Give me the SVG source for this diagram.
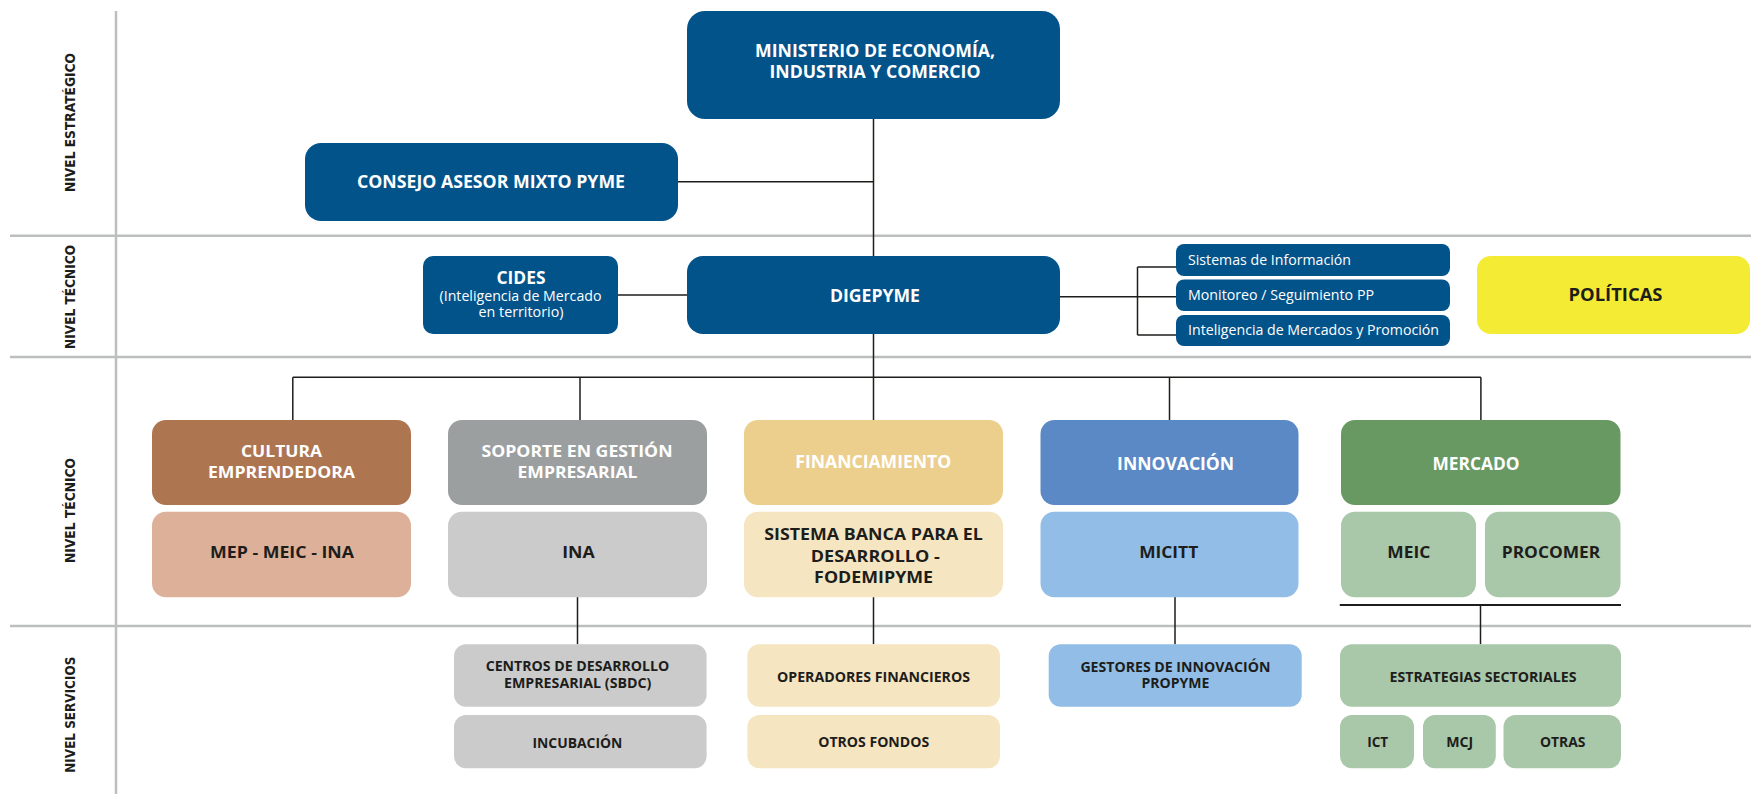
<svg xmlns="http://www.w3.org/2000/svg" width="1751" height="794" viewBox="0 0 1751 794">
<style>
.grid{stroke:#bdbfbf;stroke-width:2.5;fill:none}
.con{stroke:#1d1d1b;stroke-width:1.5;fill:none}
.side{font-family:"DejaVu Sans",sans-serif;font-weight:700;font-size:14px;fill:#1d1d1b;text-anchor:middle}
.t{font-family:"Open Sans","Liberation Sans",sans-serif;font-weight:700;text-anchor:middle}
.r{font-family:"Open Sans","Liberation Sans",sans-serif;font-weight:400;font-size:14px}
.w{fill:#ffffff}
.d{fill:#1d1d1b}
.blue{fill:#03538b}
</style>
<g id="grid">
<line class="grid" x1="116" y1="11" x2="116" y2="794"/>
<line class="grid" x1="10" y1="235.7" x2="1751" y2="235.7"/>
<line class="grid" x1="10" y1="357" x2="1751" y2="357"/>
<line class="grid" x1="10" y1="626" x2="1751" y2="626"/>
</g>
<g id="levels">
<text class="side" transform="translate(75,122.5) rotate(-90)" textLength="139" lengthAdjust="spacingAndGlyphs">NIVEL ESTRATÉGICO</text>
<text class="side" transform="translate(75,297) rotate(-90)" textLength="104" lengthAdjust="spacingAndGlyphs">NIVEL TÉCNICO</text>
<text class="side" transform="translate(75,510.5) rotate(-90)" textLength="105" lengthAdjust="spacingAndGlyphs">NIVEL TÉCNICO</text>
<text class="side" transform="translate(75,714.7) rotate(-90)" textLength="116" lengthAdjust="spacingAndGlyphs">NIVEL SERVICIOS</text>
</g>
<g id="connectors">
<line class="con" x1="873.5" y1="118" x2="873.5" y2="256"/>
<line class="con" x1="678" y1="181.7" x2="873.5" y2="181.7"/>
<line class="con" x1="618" y1="295" x2="687" y2="295"/>
<line class="con" x1="1060" y1="296.7" x2="1137.5" y2="296.7"/>
<line class="con" x1="1137.5" y1="267" x2="1137.5" y2="335"/>
<line class="con" x1="1137.5" y1="267" x2="1176" y2="267"/>
<line class="con" x1="1137.5" y1="296.7" x2="1176" y2="296.7"/>
<line class="con" x1="1137.5" y1="335" x2="1176" y2="335"/>
<line class="con" x1="873.5" y1="334" x2="873.5" y2="420"/>
<line class="con" x1="292.8" y1="377.3" x2="1480.9" y2="377.3"/>
<line class="con" x1="292.8" y1="377.3" x2="292.8" y2="420"/>
<line class="con" x1="580" y1="377.3" x2="580" y2="420"/>
<line class="con" x1="1169.5" y1="377.3" x2="1169.5" y2="420"/>
<line class="con" x1="1480.9" y1="377.3" x2="1480.9" y2="420"/>
<line class="con" x1="577.5" y1="597" x2="577.5" y2="644.3"/>
<line class="con" x1="873.5" y1="597" x2="873.5" y2="644.3"/>
<line class="con" x1="1175" y1="597" x2="1175" y2="644.3"/>
<line x1="1339.8" y1="605" x2="1621" y2="605" stroke="#1d1d1b" stroke-width="2.2"/>
<line class="con" x1="1480.5" y1="605" x2="1480.5" y2="644.3"/>
</g>
<g id="ministerio">
<rect class="blue" x="687" y="11" width="373" height="108" rx="18"/>
<text class="t w" font-size="18" x="875" y="57" textLength="240" lengthAdjust="spacingAndGlyphs">MINISTERIO DE ECONOMÍA,</text>
<text class="t w" font-size="18" x="875" y="78" textLength="211" lengthAdjust="spacingAndGlyphs">INDUSTRIA Y COMERCIO</text>
</g>
<g id="consejo">
<rect class="blue" x="305" y="143" width="373" height="78" rx="16"/>
<text class="t w" font-size="18" x="491" y="188" textLength="268" lengthAdjust="spacingAndGlyphs">CONSEJO ASESOR MIXTO PYME</text>
</g>
<g id="cides">
<rect class="blue" x="423" y="256" width="195" height="78" rx="10"/>
<text class="t w" font-size="17" x="521" y="284" textLength="49" lengthAdjust="spacingAndGlyphs">CIDES</text>
<text class="r w" x="520.5" y="300.5" text-anchor="middle" font-size="13.5" textLength="162" lengthAdjust="spacingAndGlyphs">(Inteligencia de Mercado</text>
<text class="r w" x="521" y="317" text-anchor="middle" font-size="13.5" textLength="85" lengthAdjust="spacingAndGlyphs">en territorio)</text>
</g>
<g id="digepyme">
<rect class="blue" x="687" y="256" width="373" height="78" rx="16"/>
<text class="t w" font-size="18" x="875" y="301.5" textLength="90" lengthAdjust="spacingAndGlyphs">DIGEPYME</text>
</g>
<g id="sistemas">
<rect class="blue" x="1176" y="244" width="274" height="32" rx="8"/>
<text class="r w" x="1188" y="264.5" textLength="163" lengthAdjust="spacingAndGlyphs">Sistemas de Información</text>
</g>
<g id="monitoreo">
<rect class="blue" x="1176" y="279.5" width="274" height="31.5" rx="8"/>
<text class="r w" x="1188" y="300" textLength="186" lengthAdjust="spacingAndGlyphs">Monitoreo / Seguimiento PP</text>
</g>
<g id="inteligencia">
<rect class="blue" x="1176" y="315" width="274" height="31" rx="8"/>
<text class="r w" x="1188" y="335" textLength="251" lengthAdjust="spacingAndGlyphs">Inteligencia de Mercados y Promoción</text>
</g>
<g id="politicas">
<rect x="1477" y="256" width="273" height="78" rx="14" fill="#f4eb34"/>
<text class="t d" font-size="18" x="1615.5" y="301" textLength="94" lengthAdjust="spacingAndGlyphs">POLÍTICAS</text>
</g>
<g id="cultura">
<rect x="152" y="420" width="259" height="85" rx="14" fill="#ae7551"/>
<text class="t w" font-size="16" x="281.5" y="457" textLength="81" lengthAdjust="spacingAndGlyphs">CULTURA</text>
<text class="t w" font-size="16" x="281.5" y="478" textLength="147" lengthAdjust="spacingAndGlyphs">EMPRENDEDORA</text>
</g>
<g id="mep">
<rect x="152" y="511.7" width="259" height="85.6" rx="14" fill="#ddb199"/>
<text class="t d" font-size="16" x="282" y="558" textLength="144" lengthAdjust="spacingAndGlyphs">MEP - MEIC - INA</text>
</g>
<g id="soporte">
<rect x="448" y="420" width="259" height="85" rx="14" fill="#9c9fa0"/>
<text class="t w" font-size="16" x="577" y="457" textLength="191" lengthAdjust="spacingAndGlyphs">SOPORTE EN GESTIÓN</text>
<text class="t w" font-size="16" x="577.5" y="478" textLength="120" lengthAdjust="spacingAndGlyphs">EMPRESARIAL</text>
</g>
<g id="ina">
<rect x="448" y="511.7" width="259" height="85.6" rx="14" fill="#cbcbcb"/>
<text class="t d" font-size="16" x="578.5" y="558" textLength="32.5" lengthAdjust="spacingAndGlyphs">INA</text>
</g>
<g id="financiamiento">
<rect x="744" y="420" width="259" height="85" rx="14" fill="#edcf8d"/>
<text class="t w" font-size="17" x="873.3" y="468.3" textLength="156" lengthAdjust="spacingAndGlyphs">FINANCIAMIENTO</text>
</g>
<g id="sistema-banca">
<rect x="744" y="511.7" width="259" height="85.6" rx="14" fill="#f5e5c0"/>
<text class="t d" font-size="15.5" x="873.6" y="540" textLength="218.6" lengthAdjust="spacingAndGlyphs">SISTEMA BANCA PARA EL</text>
<text class="t d" font-size="15.5" x="875.3" y="561.7" textLength="129" lengthAdjust="spacingAndGlyphs">DESARROLLO -</text>
<text class="t d" font-size="15.5" x="873.6" y="582.7" textLength="119" lengthAdjust="spacingAndGlyphs">FODEMIPYME</text>
</g>
<g id="innovacion">
<rect x="1040.5" y="420" width="258" height="85" rx="14" fill="#5a89c5"/>
<text class="t w" font-size="17" x="1175.6" y="470" textLength="117" lengthAdjust="spacingAndGlyphs">INNOVACIÓN</text>
</g>
<g id="micitt">
<rect x="1040.5" y="511.7" width="258" height="85.6" rx="14" fill="#91bde6"/>
<text class="t d" font-size="16" x="1168.7" y="558" textLength="59" lengthAdjust="spacingAndGlyphs">MICITT</text>
</g>
<g id="mercado">
<rect x="1341" y="420" width="279.5" height="85" rx="14" fill="#689962"/>
<text class="t w" font-size="17" x="1476" y="470" textLength="87" lengthAdjust="spacingAndGlyphs">MERCADO</text>
</g>
<g id="meic">
<rect x="1341" y="511.7" width="135" height="85.6" rx="14" fill="#a9c7a9"/>
<text class="t d" font-size="16" x="1408.8" y="558" textLength="43" lengthAdjust="spacingAndGlyphs">MEIC</text>
</g>
<g id="procomer">
<rect x="1485" y="511.7" width="135.5" height="85.6" rx="14" fill="#a9c7a9"/>
<text class="t d" font-size="16" x="1551" y="558" textLength="98.5" lengthAdjust="spacingAndGlyphs">PROCOMER</text>
</g>
<g id="centros">
<rect x="454" y="644.3" width="252.6" height="62.4" rx="12" fill="#cbcbcb"/>
<text class="t d" font-size="14.5" x="577.5" y="670.7" textLength="183.7" lengthAdjust="spacingAndGlyphs">CENTROS DE DESARROLLO</text>
<text class="t d" font-size="14.5" x="577.7" y="687.5" textLength="147.5" lengthAdjust="spacingAndGlyphs">EMPRESARIAL (SBDC)</text>
</g>
<g id="incubacion">
<rect x="454" y="715" width="252.6" height="53.3" rx="12" fill="#cbcbcb"/>
<text class="t d" font-size="14.5" x="577.4" y="747.5" textLength="90" lengthAdjust="spacingAndGlyphs">INCUBACIÓN</text>
</g>
<g id="operadores">
<rect x="747.4" y="644.3" width="252.6" height="62.4" rx="12" fill="#f5e5c0"/>
<text class="t d" font-size="14.5" x="873.5" y="681.7" textLength="193" lengthAdjust="spacingAndGlyphs">OPERADORES FINANCIEROS</text>
</g>
<g id="otros-fondos">
<rect x="747.4" y="715" width="252.6" height="53.3" rx="12" fill="#f5e5c0"/>
<text class="t d" font-size="14.5" x="873.7" y="747.3" textLength="111" lengthAdjust="spacingAndGlyphs">OTROS FONDOS</text>
</g>
<g id="gestores">
<rect x="1048.7" y="644.3" width="253" height="62.4" rx="12" fill="#91bde6"/>
<text class="t d" font-size="14.5" x="1175.4" y="671.7" textLength="190" lengthAdjust="spacingAndGlyphs">GESTORES DE INNOVACIÓN</text>
<text class="t d" font-size="14.5" x="1175.4" y="687.7" textLength="68" lengthAdjust="spacingAndGlyphs">PROPYME</text>
</g>
<g id="estrategias">
<rect x="1340" y="644.3" width="281" height="62.4" rx="12" fill="#a9c7a9"/>
<text class="t d" font-size="14.5" x="1483" y="682.3" textLength="187" lengthAdjust="spacingAndGlyphs">ESTRATEGIAS SECTORIALES</text>
</g>
<g id="ict">
<rect x="1340" y="715" width="74" height="53.3" rx="12" fill="#a9c7a9"/>
<text class="t d" font-size="14.5" x="1377.7" y="747.3" textLength="21" lengthAdjust="spacingAndGlyphs">ICT</text>
</g>
<g id="mcj">
<rect x="1423" y="715" width="72.8" height="53.3" rx="12" fill="#a9c7a9"/>
<text class="t d" font-size="14.5" x="1459.8" y="747.3" textLength="27" lengthAdjust="spacingAndGlyphs">MCJ</text>
</g>
<g id="otras">
<rect x="1503.5" y="715" width="117.5" height="53.3" rx="12" fill="#a9c7a9"/>
<text class="t d" font-size="14.5" x="1562.7" y="747.3" textLength="45.5" lengthAdjust="spacingAndGlyphs">OTRAS</text>
</g>
</svg>
